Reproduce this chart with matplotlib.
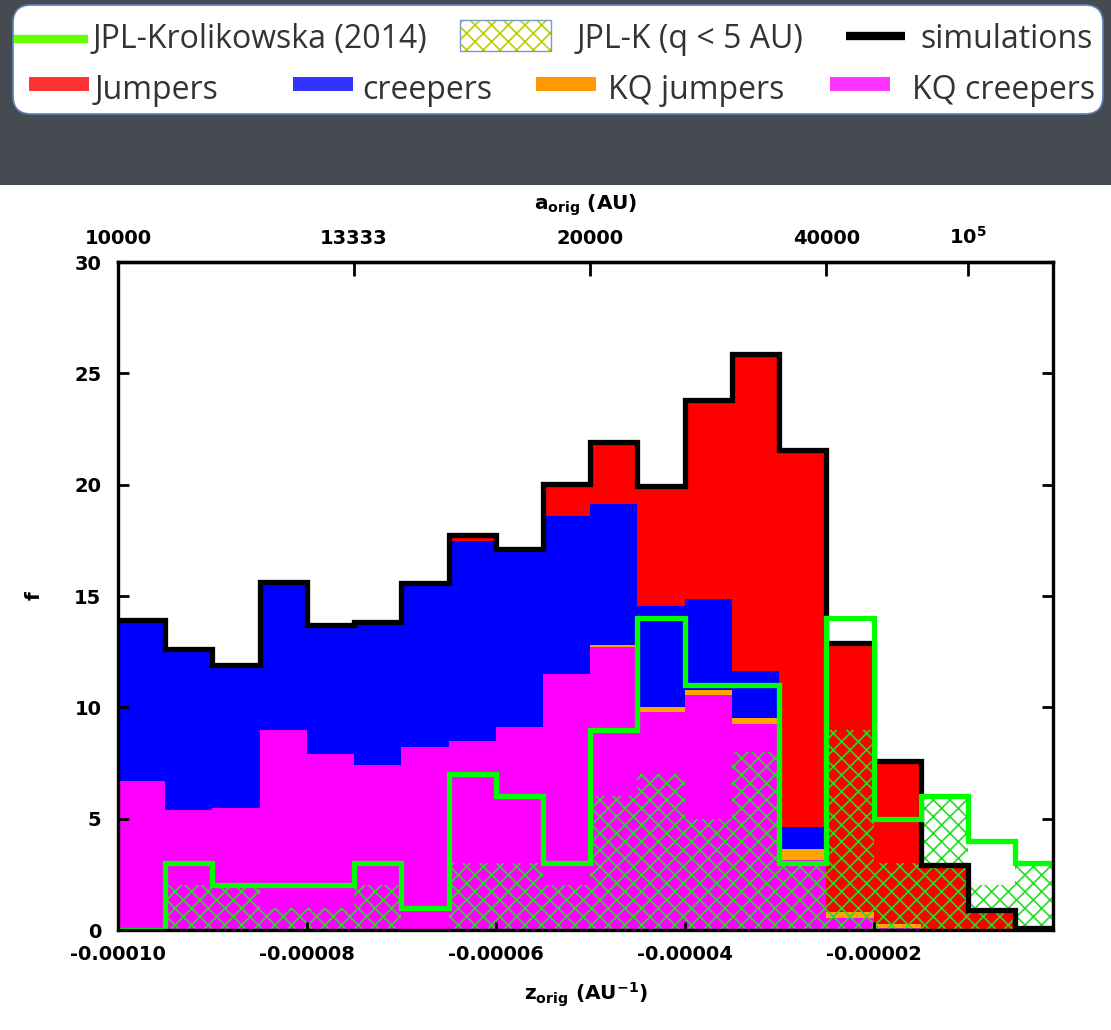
import numpy as np
import matplotlib
matplotlib.use("Agg")
import matplotlib.pyplot as plt
from matplotlib.patches import Rectangle, FancyBboxPatch
from matplotlib.lines import Line2D

# histogram bins in z_orig (AU^-1)
bin_edges = np.linspace(-0.0001, 0.0, 21)

# stacked components of the simulated distribution
kq_creepers = [6.7, 5.4, 5.5, 9.0, 7.9, 7.4, 8.2, 8.5, 9.1, 11.5,
               12.7, 9.8, 10.55, 9.25, 3.15, 0.55, 0.1, 0.0, 0.0, 0.0]
kq_jumpers = [0, 0, 0, 0, 0, 0, 0, 0, 0, 0,
              0.1, 0.2, 0.25, 0.25, 0.5, 0.25, 0.15, 0, 0, 0]
creepers = [7.2, 7.2, 6.4, 6.65, 5.8, 6.45, 7.3, 8.95, 7.9, 7.1,
            6.33, 4.53, 4.07, 2.13, 0.98, 0, 0, 0, 0, 0]
jumpers = [0, 0, 0, 0, 0, 0, 0.1, 0.3, 0.1, 1.45,
           2.77, 5.42, 8.93, 14.22, 16.92, 12.1, 7.35, 2.9, 0.9, 0.1]
simulations = [13.9, 12.6, 11.9, 15.65, 13.7, 13.85, 15.6, 17.75, 17.1, 20.05,
               21.9, 19.95, 23.8, 25.85, 21.55, 12.9, 7.6, 2.9, 0.9, 0.1]

# observed comets
jpl_krolikowska = [0, 3, 2, 2, 2, 3, 1, 7, 6, 3, 9, 14, 11, 11, 3, 14, 5, 6, 4, 3]
jpl_q5 = [0, 2, 2, 1, 1, 2, 0, 3, 3, 2, 6, 7, 5, 8, 3, 9, 3, 6, 2, 3]

z_ticks = [-0.0001, -0.00008, -0.00006, -0.00004, -0.00002]
z_labels = ["-0.00010", "-0.00008", "-0.00006", "-0.00004", "-0.00002"]
a_ticks = [10000, 13333, 20000, 40000, 100000]
a_labels = ["10000", "13333", "20000", "40000", r"$10^5$"]

plt.rcParams["hatch.linewidth"] = 1.2
plt.rcParams["mathtext.fontset"] = "dejavusans"
plt.rcParams["mathtext.default"] = "bf"

W, H = 1111, 1030
fig = plt.figure(figsize=(W / 100, H / 100), dpi=100)
fig.patch.set_facecolor("white")

tick_font = dict(family="DejaVu Sans", weight="bold", size=14)

ax = fig.add_axes([118 / W, 1 - 930 / H, (1053 - 118) / W, (930 - 262) / H])

c1 = np.array(kq_creepers)
c2 = c1 + np.array(kq_jumpers)
c3 = c2 + np.array(creepers)
c4 = c3 + np.array(jumpers)

ax.stairs(c4, bin_edges, baseline=c3, fill=True, color="#ff0000", lw=0)
ax.stairs(c3, bin_edges, baseline=c2, fill=True, color="#0000ff", lw=0)
ax.stairs(c2, bin_edges, baseline=c1, fill=True, color="#ffa500", lw=0)
ax.stairs(c1, bin_edges, baseline=0, fill=True, color="#ff00ff", lw=0)

# q < 5 AU subset as cross-hatched boxes
ax.stairs(jpl_q5, bin_edges, fill=True, facecolor="none",
          edgecolor="#22dd22", hatch="xx", lw=0)

ax.stairs(simulations, bin_edges, baseline=None, color="black", lw=3.8)
ax.stairs(jpl_krolikowska, bin_edges, baseline=None, color="#00ff00", lw=3.8)

ax.set_xlim(-0.0001, -0.000001)
ax.set_ylim(0, 30)
ax.set_xticks(z_ticks)
ax.set_xticklabels(z_labels, **tick_font)
ax.set_yticks(range(0, 31, 5))
ax.set_yticklabels([str(v) for v in range(0, 31, 5)], **tick_font)
ax.tick_params(axis="y", direction="in", length=8, width=2, right=True, pad=12)
ax.tick_params(axis="x", direction="in", length=6, width=2, pad=11)
for s in ax.spines.values():
    s.set_linewidth(2.4)

ax.set_xlabel(r"z$_{orig}$ (AU$^{-1}$)", fontsize=14.5, fontweight="bold",
              family="DejaVu Sans", labelpad=12)
ax.set_ylabel("f", fontsize=14.5, fontweight="bold", family="DejaVu Sans",
              labelpad=22)

top = ax.secondary_xaxis("top")
top.set_xticks([-1.0 / a for a in a_ticks])
top.set_xticklabels(a_labels, **tick_font)
top.tick_params(direction="in", length=10, width=2, pad=10)
top.spines["top"].set_linewidth(2.4)
top.set_xlabel(r"a$_{orig}$ (AU)", fontsize=14.5, fontweight="bold",
               family="DejaVu Sans", labelpad=12)

# header band with the legend
lg = fig.add_axes([0, 0, 1, 1])
lg.set_xlim(0, W)
lg.set_ylim(H, 0)
lg.axis("off")
lg.patch.set_visible(False)
lg.add_patch(Rectangle((0, 0), W, 185, color="#454b50", lw=0, zorder=0))
lg.add_patch(FancyBboxPatch((13, 5), 1090, 109,
                            boxstyle="round,pad=0,rounding_size=18",
                            fc="white", ec="#5b80b8", lw=1.2, zorder=1))

leg_font = dict(family="Open Sans", size=23, color="#333333", va="baseline", zorder=3)

lg.add_line(Line2D([14, 88], [39, 39], color="#66ff00", lw=6, solid_capstyle="butt", zorder=2))
lg.text(93, 48, "JPL-Krolikowska (2014)", **leg_font)
lg.add_patch(Rectangle((460, 20), 91, 31, fc="white", ec="#bbcc00", hatch="xx", lw=0, zorder=2))
lg.add_patch(Rectangle((460, 20), 91, 31, fc="none", ec="#7799cc", lw=1, zorder=2))
lg.text(577, 48, "JPL-K (q < 5 AU)", **leg_font)
lg.add_line(Line2D([846, 905], [36, 36], color="black", lw=6, solid_capstyle="butt", zorder=2))
lg.text(920, 48, "simulations", **leg_font)

row2 = [("Jumpers", "#ff3333", 29, 95),
        ("creepers", "#3333ff", 293, 362),
        ("KQ jumpers", "#ff9900", 536, 608),
        ("KQ creepers", "#ff33ff", 830, 912)]
for label, col, x0, xt in row2:
    lg.add_patch(Rectangle((x0, 77), 60, 14, fc=col, lw=0, zorder=2))
    lg.text(xt, 99, label, **leg_font)

fig.savefig("out.png", dpi=100)
